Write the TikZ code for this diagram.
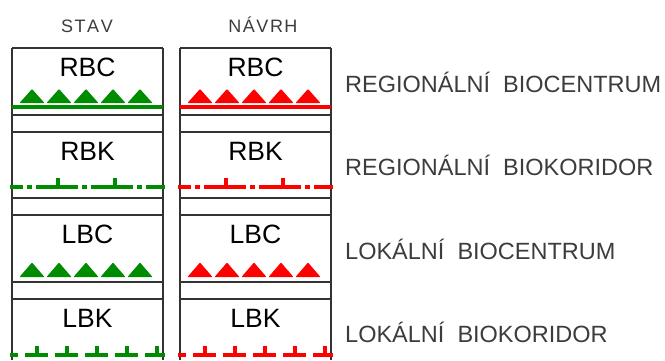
\documentclass[tikz,border=0pt]{standalone}
\usepackage{fontspec}
\setmainfont{Liberation Sans}
\definecolor{stavgreen}{RGB}{0,140,0}
\definecolor{navrhred}{RGB}{255,0,0}
\definecolor{textgray}{RGB}{60,60,60}
\tikzset{
  cell/.style={draw=black!80, line width=1.3pt},
  abbr/.style={anchor=base, inner sep=0pt, font=\fontsize{26.5}{30}\selectfont},
  head/.style={anchor=base, inner sep=0pt, text=textgray, font=\fontsize{18}{20}\selectfont},
  legend/.style={anchor=base west, inner sep=0pt, text=textgray, font=\fontsize{23.5}{26}\selectfont},
  symline/.style={line width=3.4pt},
  tick/.style={line width=3.2pt},
}
\begin{document}
\begin{tikzpicture}[x=1pt,y=-1pt]
\useasboundingbox (0,0) rectangle (665,360);
\clip (0,0) rectangle (665,360);

% column headings
\node (stavhead) [head] at (87,32) {S\kern1.5pt T\kern1.5pt A\kern1.5pt V};
\node (navrhhead) [head] at (263,32) {N\kern1.5pt Á\kern1.5pt V\kern1.5pt R\kern1.5pt H};

% table frames
\foreach \x in {12,180} {
  \draw [cell] (\x,48) -- (\x,360);
  \draw [cell] (\x+151,48) -- (\x+151,360);
  \foreach \y in {48,115,132,198,215,282,299}
    \draw [cell] (\x,\y) -- (\x+151,\y);
}

% abbreviations
\foreach \x/\s in {87.5/S,255.5/N} {
  \node (rbc\s) [abbr] at (\x,76) {RBC};
  \node (rbk\s) [abbr] at (\x,160) {RBK};
  \node (lbc\s) [abbr] at (\x,243) {LBC};
  \node (lbk\s) [abbr] at (\x,327) {LBK};
}

% symbols: stav green, navrh red
\foreach \dx/\col in {0/stavgreen,168/navrhred} {
  % RBC
  \draw [symline, \col] (12+\dx,107) -- (163+\dx,107);
  \foreach \t in {32,59,86,113,140}
    \fill [\col, rounded corners=0.8pt] (\t+\dx-12.5,103) -- (\t+\dx,89) -- (\t+\dx+12.5,103) -- cycle;
  % RBK
  \draw [symline, \col, dash pattern=on 42pt off 4pt on 5pt off 4pt, dash phase=29pt]
    (10+\dx,187) -- (165+\dx,187);
  \foreach \t in {58,115}
    \draw [tick, \col] (\t+\dx,187) -- (\t+\dx,177.5);
  % LBC
  \foreach \t in {32,59,86,113,140}
    \fill [\col, rounded corners=0.8pt] (\t+\dx-12.5,277) -- (\t+\dx,262.5) -- (\t+\dx+12.5,277) -- cycle;
  % LBK
  \draw [symline, \col, dash pattern=on 23pt off 7pt, dash phase=15pt]
    (10+\dx,355) -- (165+\dx,355);
  \foreach \t in {37,67,97,127,157}
    \draw [tick, \col] (\t+\dx,355) -- (\t+\dx,346);
}

% legend texts
\node (rbctext) [legend] at (345,92) {REGIONÁLNÍ\ \ BIOCENTRUM};
\node (rbktext) [legend] at (345,175.5) {REGIONÁLNÍ\ \ BIOKORIDOR};
\node (lbctext) [legend] at (345,259) {LOKÁLNÍ\ \ BIOCENTRUM};
\node (lbktext) [legend] at (345,342) {LOKÁLNÍ\ \ BIOKORIDOR};
\end{tikzpicture}
\end{document}
